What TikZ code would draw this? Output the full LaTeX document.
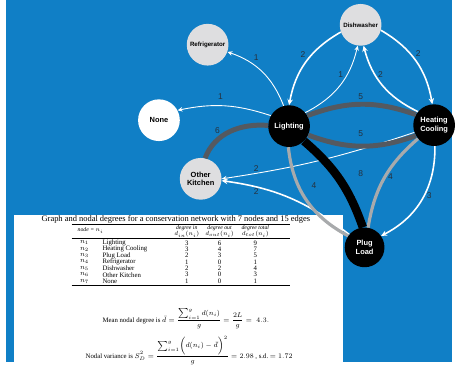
\documentclass[tikz,border=0pt]{standalone}
\usepackage{fontspec}
\setmainfont{Liberation Serif}
\setsansfont{Liberation Sans}
\usetikzlibrary{arrows.meta}

\definecolor{bgblue}{RGB}{16,127,198}
\definecolor{nodegray}{RGB}{222,222,224}
\definecolor{arcdark}{RGB}{84,89,96}
\definecolor{arclight}{RGB}{168,170,172}
\definecolor{wtgray}{RGB}{38,48,60}

\tikzset{
  hub/.style={circle, fill=black, text=white, minimum size=42pt, inner sep=0pt,
    align=center, font=\sffamily\bfseries\fontsize{7.5}{8.5}\selectfont},
  leaf/.style={circle, fill=nodegray, minimum size=42pt, inner sep=0pt,
    align=center, font=\sffamily\bfseries\fontsize{7.5}{8.5}\selectfont},
  smallleaf/.style={leaf, font=\sffamily\bfseries\fontsize{6.2}{6.5}\selectfont},
  thinarc/.style={draw=white, line width=0.9pt, -{Stealth[length=5pt,width=4.5pt]}},
  midarc/.style={draw=white, line width=1.6pt, -{Stealth[length=6pt,width=5.5pt]}},
  darkarc/.style={draw=arcdark, line width=5pt},
  lightarc/.style={draw=arclight, line width=3.2pt},
  blackarc/.style={draw=black, line width=8.5pt},
  wt/.style={text=wtgray, inner sep=0pt, font=\sffamily\fontsize{8.5}{8.5}\selectfont},
  cell/.style={inner sep=0pt, font=\fontsize{6.8}{6.8}\selectfont},
  hd/.style={inner sep=0pt, align=center, font=\itshape\fontsize{5.8}{6.2}\selectfont},
  eqn/.style={inner sep=0pt, anchor=west, font=\fontsize{6.8}{7.5}\selectfont}
}

\begin{document}
\begin{tikzpicture}[x=1pt, y=-1pt]
  % background and table sheet
  \fill[white] (0,0) rectangle (455,364);
  \fill[bgblue] (6,0) rectangle (455,364);
  \fill[white] (14,216) rectangle (345,364);

  % nodes of the network
  \node[smallleaf] (ref) at (209,45) {Refrigerator};
  \node[smallleaf] (dish) at (363,25) {Dishwasher};
  \node[leaf, fill=white] (none) at (160,121) {None};
  \node[hub] (light) at (291,127) {Lighting};
  \node[hub] (heat) at (437,126) {Heating\\Cooling};
  \node[leaf] (other) at (202,180) {Other\\Kitchen};
  \node[hub, minimum size=40pt] (plug) at (367,249) {Plug\\Load};

  % thin directed edges
  \draw[thinarc] (light.105) to[bend right=25] (ref.-20);
  \draw[thinarc] (light.150) to[bend right=15] (none.28);
  \draw[midarc] (dish.200) to[bend right=25] (light.90);
  \draw[thinarc] (light.40) to[bend right=25] (dish.262);
  \draw[midarc] (heat.140) to[bend left=25] (dish.278);
  \draw[midarc] (dish.-15) to[bend left=25] (heat.95);
  \draw[thinarc] (heat.-160) to[bend left=5] (other.0);
  \draw[midarc] (plug.140) to[bend right=15] (other.-5);
  \draw[midarc] (heat.-88) to[bend left=32] (plug.35);

  % weighted edges
  \draw[darkarc] (light.178) .. controls (242,124) and (216,134) .. (other.78);
  \draw[darkarc] (light.30) to[bend left=20] (heat.150);
  \draw[darkarc] (light.-25) to[bend right=20] (heat.-150);
  \draw[lightarc] (light.-92) to[bend right=28] (plug.145);
  \draw[lightarc] (heat.-140) to[bend right=20] (plug.80);
  \draw[blackarc] (light.-45) to[bend left=15] (plug.95);

  % edge weights
  \node[wt] (w1) at (258,58) {1};
  \node[wt] (w2) at (222,97) {1};
  \node[wt] (w3) at (219,131) {6};
  \node[wt] (w4) at (305,55) {2};
  \node[wt] (w5) at (343,75) {1};
  \node[wt] (w6) at (383,75) {2};
  \node[wt] (w7) at (421,54) {2};
  \node[wt] (w8) at (363,97) {5};
  \node[wt] (w9) at (363,135) {5};
  \node[wt] (w10) at (258,170) {2};
  \node[wt] (w11) at (258,193) {2};
  \node[wt] (w12) at (316,187) {4};
  \node[wt] (w13) at (363,175) {8};
  \node[wt] (w14) at (393,178) {4};
  \node[wt] (w15) at (432,197) {3};

  % table of nodal degrees
  \node[cell, font=\fontsize{8.5}{9}\selectfont] (title) at (177,221)
    {Graph and nodal degrees for a conservation network with 7 nodes and 15 edges};
  \draw[line width=0.6pt] (72,226) -- (292,226);
  \node[hd, anchor=west] (hnode) at (78,232) {node = $n_i$};
  \node[hd] (hin) at (188,233) {degree in\\$d_{in}(n_i)$};
  \node[hd] (hout) at (221,233) {degree out\\$d_{out}(n_i)$};
  \node[hd] (htot) at (257,233) {degree total\\$d_{tot}(n_i)$};
  \draw[line width=0.6pt] (72,240) -- (292,240);

  \node[cell] (i1) at (85,244.5) {$n_1$};
  \node[cell, anchor=west] (m1) at (103,244.5) {Lighting};
  \node[cell] (a1) at (188,244.5) {3};
  \node[cell] (b1) at (221,244.5) {6};
  \node[cell] (c1) at (257,244.5) {9};

  \node[cell] (i2) at (85,250.9) {$n_2$};
  \node[cell, anchor=west] (m2) at (103,250.9) {Heating Cooling};
  \node[cell] (a2) at (188,250.9) {3};
  \node[cell] (b2) at (221,250.9) {4};
  \node[cell] (c2) at (257,250.9) {7};

  \node[cell] (i3) at (85,257.3) {$n_3$};
  \node[cell, anchor=west] (m3) at (103,257.3) {Plug Load};
  \node[cell] (a3) at (188,257.3) {2};
  \node[cell] (b3) at (221,257.3) {3};
  \node[cell] (c3) at (257,257.3) {5};

  \node[cell] (i4) at (85,263.7) {$n_4$};
  \node[cell, anchor=west] (m4) at (103,263.7) {Refrigerator};
  \node[cell] (a4) at (188,263.7) {1};
  \node[cell] (b4) at (221,263.7) {0};
  \node[cell] (c4) at (257,263.7) {1};

  \node[cell] (i5) at (85,270.1) {$n_5$};
  \node[cell, anchor=west] (m5) at (103,270.1) {Dishwasher};
  \node[cell] (a5) at (188,270.1) {2};
  \node[cell] (b5) at (221,270.1) {2};
  \node[cell] (c5) at (257,270.1) {4};

  \node[cell] (i6) at (85,276.5) {$n_6$};
  \node[cell, anchor=west] (m6) at (103,276.5) {Other Kitchen};
  \node[cell] (a6) at (188,276.5) {3};
  \node[cell] (b6) at (221,276.5) {0};
  \node[cell] (c6) at (257,276.5) {3};

  \node[cell] (i7) at (85,282.9) {$n_7$};
  \node[cell, anchor=west] (m7) at (103,282.9) {None};
  \node[cell] (a7) at (188,282.9) {1};
  \node[cell] (b7) at (221,282.9) {0};
  \node[cell] (c7) at (257,282.9) {1};
  \draw[line width=0.6pt] (72,287) -- (292,287);

  % summary formulas
  \node[eqn] (mean) at (103,321)
    {Mean nodal degree is $\displaystyle \bar{d}=\frac{\sum_{i=1}^{g} d(n_i)}{g}=\frac{2L}{g}=\;4.3.$};
  \node[eqn] (var) at (86,353)
    {Nodal variance is $\displaystyle S_D^2=\frac{\sum_{i=1}^{g}\bigl(d(n_i)-\bar{d}\bigr)^2}{g}=2.98$ , s.d.\ $=1.72$};
\end{tikzpicture}
\end{document}
